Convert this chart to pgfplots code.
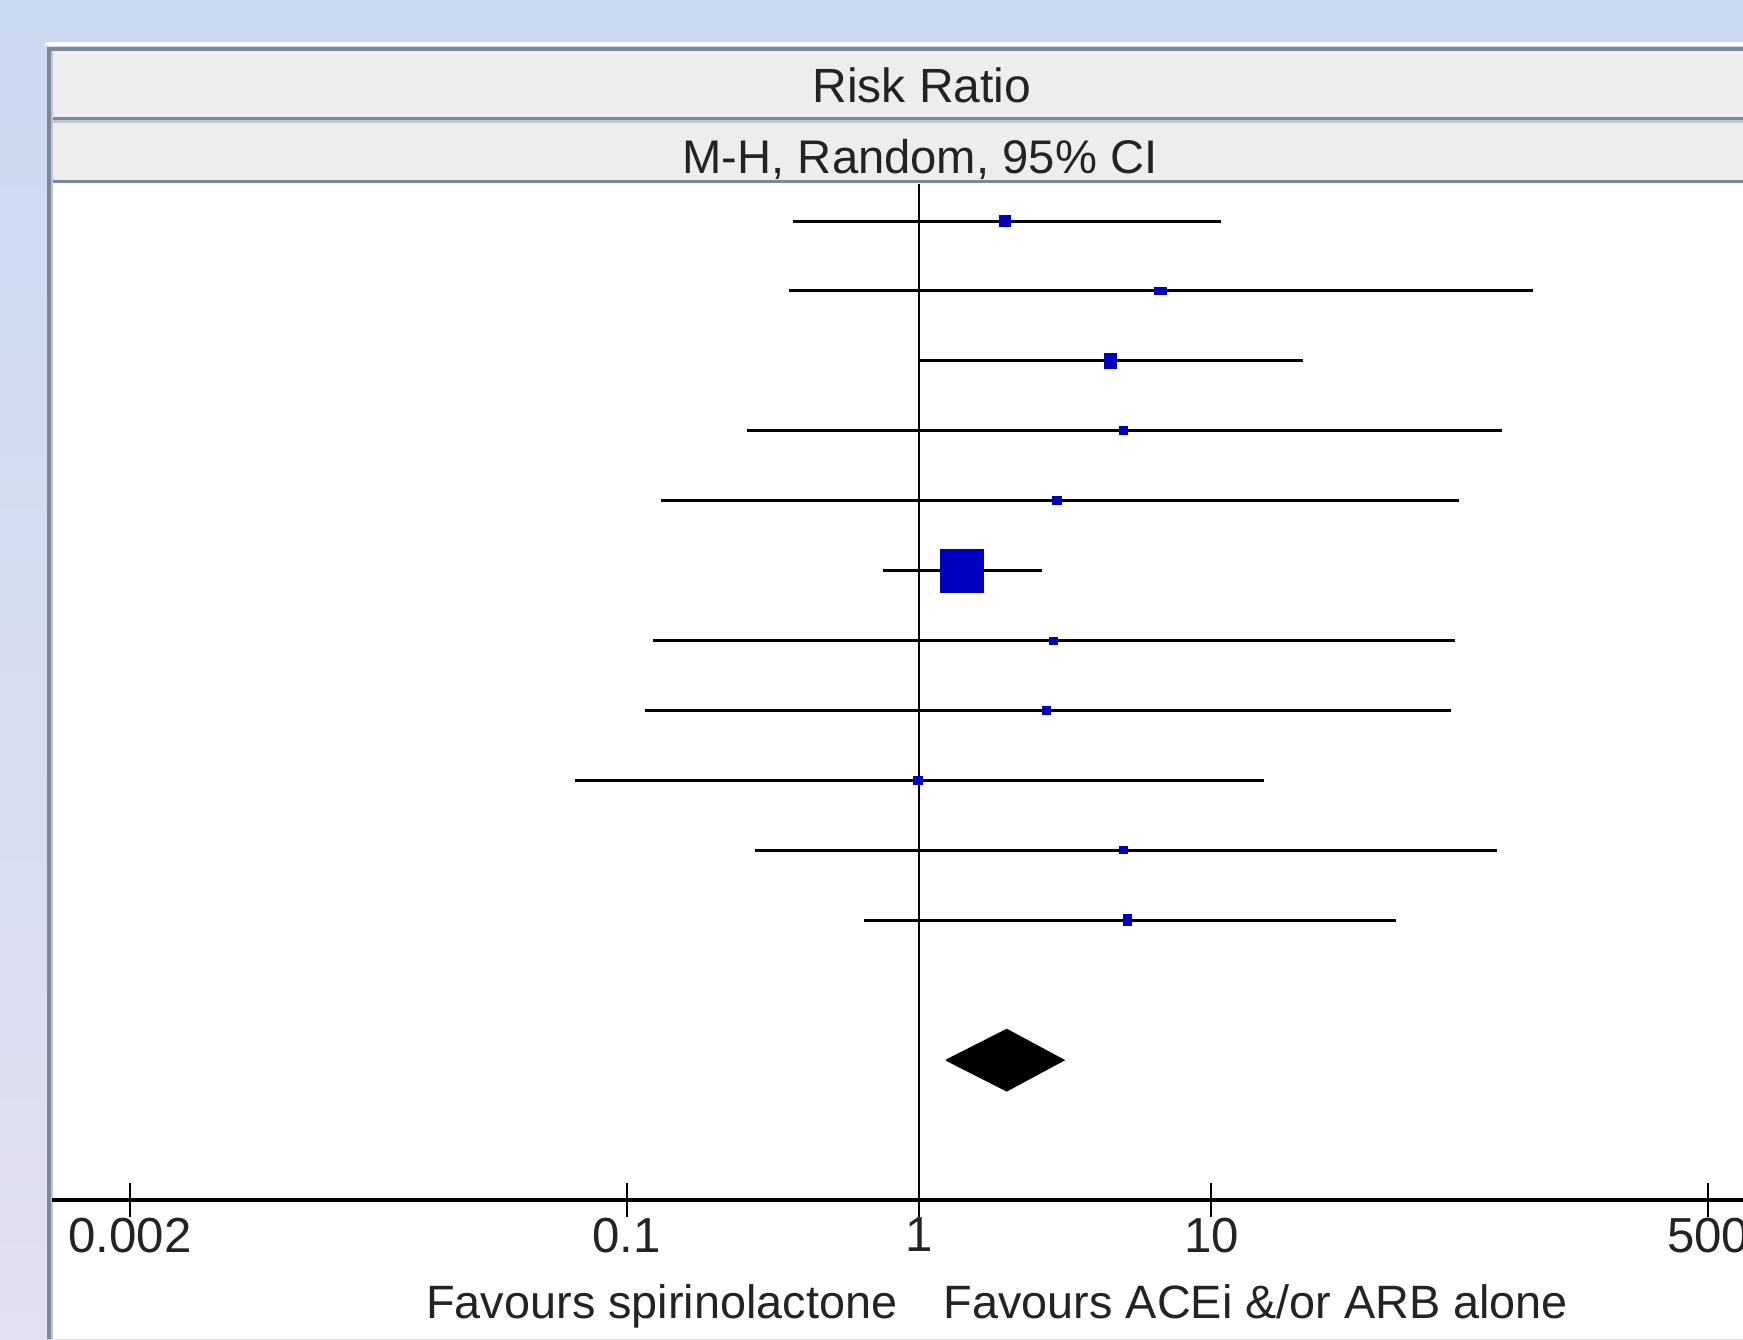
\documentclass[border=0pt]{standalone}
\usepackage{pgfplots}
\pgfplotsset{compat=1.18}
\usepackage{fontspec}
\setmainfont{Liberation Sans}
\definecolor{bgtop}{RGB}{201,217,238}
\definecolor{bgbot}{RGB}{226,224,242}
\definecolor{hdr}{RGB}{237,237,237}
\definecolor{hdrline}{RGB}{125,137,150}
\definecolor{hdrlight}{RGB}{190,198,208}
\definecolor{rmblue}{RGB}{0,0,192}
\definecolor{txt}{RGB}{35,35,35}
\pgfplotsset{
  ci/.style={black, line width=0.75pt, forget plot, mark=none},
  rm/.style={only marks, mark=square*, forget plot, color=rmblue, line width=0pt},
}
\begin{document}
\begin{tikzpicture}[x=0.25pt,y=-0.25pt]
\useasboundingbox (0,0) rectangle (1743,1339);
\clip (0,0) rectangle (1743,1339);
% background
\shade[top color=bgtop, bottom color=bgbot] (0,0) rectangle (1743,1339);
% panel
\fill[white!92!bgtop] (45,42) rectangle (1743,46);
\fill[white] (52,48) rectangle (1743,1339);
\fill[hdr] (52,50) rectangle (1743,183);
\fill[hdrline] (48,47) rectangle (1743,51);
\fill[hdrline] (52,117) rectangle (1743,120);
\fill[hdrlight] (52,120) rectangle (1743,123);
\fill[hdrline] (52,180) rectangle (1743,183);
\fill[hdrline] (47,47) rectangle (51,1339);
\fill[hdrlight] (51,51) rectangle (53,1339);
\node[anchor=base, inner sep=0pt, text=txt, font=\fontsize{12}{14}\selectfont] at (922,102) {Risk Ratio};
\node[anchor=base, inner sep=0pt, text=txt, font=\fontsize{11.8}{14}\selectfont] at (920,173) {M-H, Random, 95\% CI};
\node[anchor=base east, inner sep=0pt, text=txt, font=\fontsize{11.7}{14}\selectfont] at (898,1318) {Favours spirinolactone};
\node[anchor=base west, inner sep=0pt, text=txt, font=\fontsize{11.7}{14}\selectfont] at (943,1318) {Favours ACEi \&/or ARB alone};
\begin{axis}[
  at={(13pt,-300pt)}, anchor=south west,
  scale only axis, width=422.75pt, height=254pt,
  xmode=log, log basis x=10,
  xmin=0.001083, xmax=657.6,
  ymin=-15, ymax=-0.471,
  axis x line=bottom, axis y line=none,
  x axis line style={-, black, line width=1pt},
  xtick={0.002,0.1,1,10,500},
  xticklabels={0.002,0.1,1,10,500},
  minor xtick={}, xminorticks=false,
  ytick=\empty,
  tick align=center, major tick length=8.5pt,
  every tick/.style={black, line width=0.5pt},
  xticklabel style={anchor=north, inner sep=0pt, text=txt, font=\fontsize{12.3}{14}\selectfont},
  /pgf/number format/assume math mode=true,
  clip=false,
]
% line of no effect
\addplot[black, line width=0.6pt, forget plot] coordinates {(1,-0.471) (1,-15)};
% confidence intervals
\addplot[ci] coordinates {(0.3713,-1) (10.80,-1)};
\addplot[ci] coordinates {(0.3603,-2) (125.9,-2)};
\addplot[ci] coordinates {(1.004,-3) (20.54,-3)};
\addplot[ci] coordinates {(0.2573,-4) (98.4,-4)};
\addplot[ci] coordinates {(0.1306,-5) (70.3,-5)};
\addplot[ci] coordinates {(0.7537,-6) (2.633,-6)};
\addplot[ci] coordinates {(0.1230,-7) (68.2,-7)};
\addplot[ci] coordinates {(0.1158,-8) (66.2,-8)};
\addplot[ci] coordinates {(0.0667,-9) (15.12,-9)};
\addplot[ci] coordinates {(0.2747,-10) (95.0,-10)};
\addplot[ci] coordinates {(0.6484,-11) (42.76,-11)};
% point estimates
\addplot[rm, mark size=1.45pt] coordinates {(1.967,-1)};
\addplot[rm, mark size=1.45pt, mark options={yscale=0.65}] coordinates {(6.697,-2)};
\addplot[rm, mark size=1.45pt, mark options={yscale=1.35}] coordinates {(4.507,-3)};
\addplot[rm, mark size=1.0pt] coordinates {(5.006,-4)};
\addplot[rm, mark size=1.1pt, mark options={yscale=0.9}] coordinates {(2.969,-5)};
\addplot[rm, mark size=5.4pt] coordinates {(1.403,-6)};
\addplot[rm, mark size=1.1pt, mark options={yscale=0.8}] coordinates {(2.882,-7)};
\addplot[rm, mark size=1.1pt, mark options={yscale=0.9}] coordinates {(2.728,-8)};
\addplot[rm, mark size=1.1pt, mark options={yscale=0.9}] coordinates {(0.99,-9)};
\addplot[rm, mark size=1.0pt, mark options={yscale=0.85}] coordinates {(5.006,-10)};
\addplot[rm, mark size=1.0pt, mark options={yscale=1.4}] coordinates {(5.162,-11)};
% pooled estimate
\addplot[fill=black, draw=black, line width=0.3pt, forget plot] coordinates {(1.237,-13) (1.995,-12.56) (3.13,-13) (1.995,-13.44) (1.237,-13)};
\end{axis}
\end{tikzpicture}
\end{document}
